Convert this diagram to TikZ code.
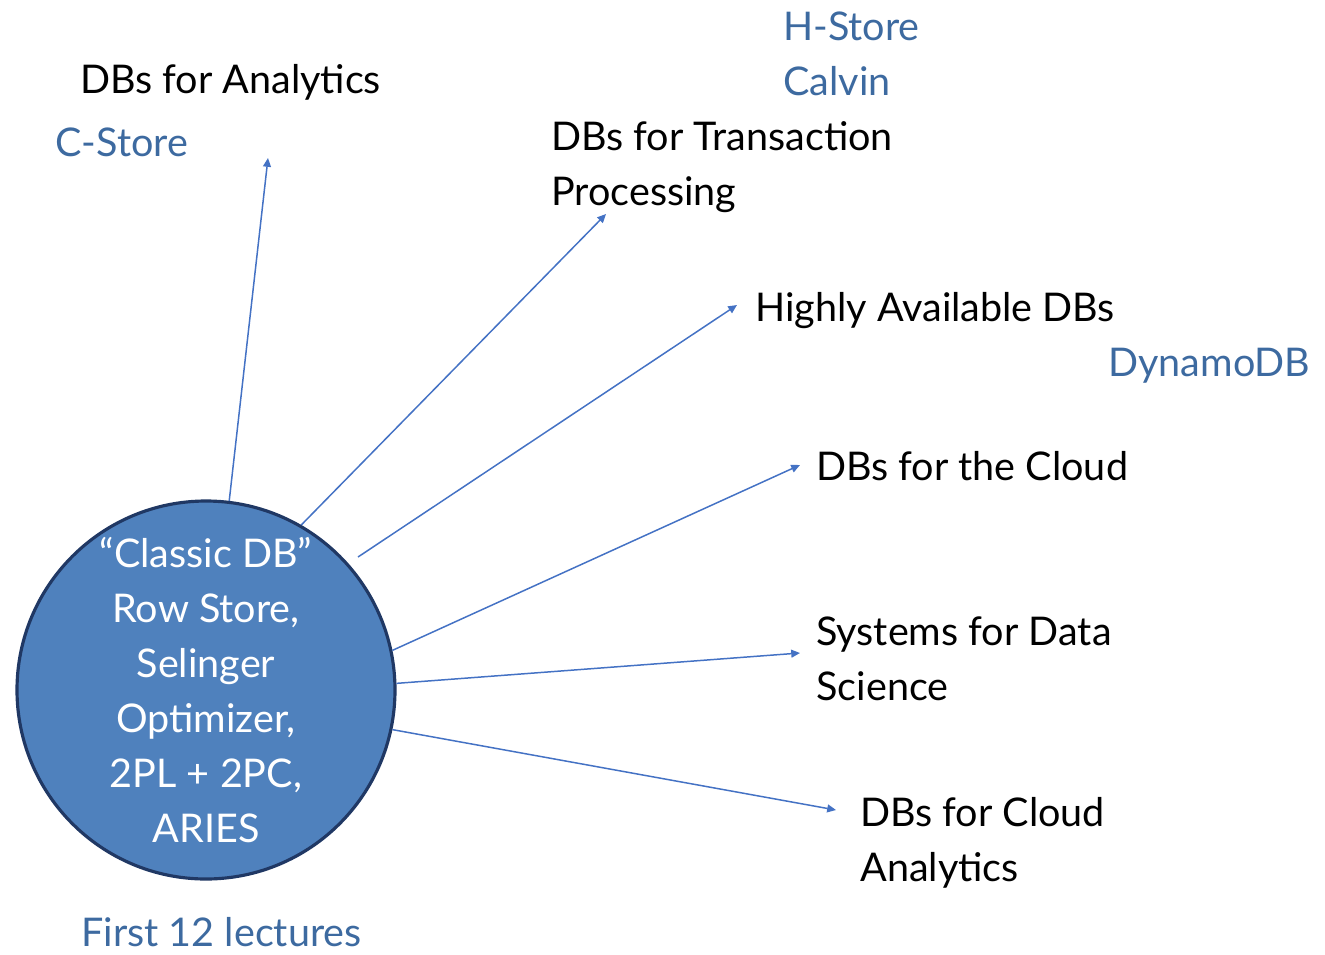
\documentclass[tikz,border=0pt]{standalone}
\usepackage{fontspec}
\setmainfont{Lato}
\usetikzlibrary{arrows.meta}
\definecolor{classicfill}{RGB}{79,129,189}
\definecolor{classicedge}{RGB}{32,56,100}
\definecolor{spokeblue}{RGB}{68,114,196}
\definecolor{sysblue}{RGB}{61,106,160}

\begin{document}
\begin{tikzpicture}[x=0.02cm, y=-0.02cm]
        \tikzstyle{topic}=[anchor=base west, inner sep=0pt, align=left, font=\fontsize{22.5}{31.3}\selectfont, text=black]
        \tikzstyle{system}=[topic, text=sysblue]
        \tikzstyle{spoke}=[draw=spokeblue, line width=0.85pt, -{Triangle[length=5pt, width=4.5pt]}]
        \useasboundingbox (0,0) rectangle (1325,954);

% The classic DB in the middle, with everything that grew out of it.

        \node[circle, minimum size=378*0.02cm, fill=classicfill, draw=classicedge, line width=1.8pt, text=white, align=center, inner sep=0pt, font=\fontsize{22.5}{31.3}\selectfont] (classic) at (206,690) {``Classic DB''\\Row Store,\\Selinger\\Optimizer,\\2PL + 2PC,\\ARIES};

% two-line labels sit on the baseline of their last line
        \node[topic] (analytics) at (80,93) {DBs for Analytics};
        \node[system] (cstore) at (55,156) {C-Store};
        \node[system] (hstore) at (783,40) {H-Store};
        \node[system] (calvin) at (783,95) {Calvin};
        \node[topic] (txn) at (551,205) {DBs for Transaction\\Processing};
        \node[topic] (ha) at (755,321) {Highly Available DBs};
        \node[system] (dynamo) at (1108,376) {DynamoDB};
        \node[topic] (cloud) at (816,480) {DBs for the Cloud};
        \node[topic] (datasci) at (816,700) {Systems for Data\\Science};
        \node[topic] (cloudana) at (860,881) {DBs for Cloud\\Analytics};
        \node[system, text depth=0pt] (first) at (81,946) {First 12 lectures};

        \coordinate (toanalytics) at (268,158);
        \coordinate (totxn) at (606,214);
        \coordinate (fromha) at (358,557);
        \coordinate (toha) at (737,305);
        \coordinate (tocloud) at (800,465);
        \coordinate (todatasci) at (800,653);
        \coordinate (tocloudana) at (836,810);

        \draw[spoke] (classic.83) -- (toanalytics);
        \draw[spoke] (classic.60) -- (totxn);
        \draw[spoke] (fromha) -- (toha);
        \draw[spoke] (classic.12) -- (tocloud);
        \draw[spoke] (classic.2) -- (todatasci);
        \draw[spoke] (classic.-12) -- (tocloudana);

    \end{tikzpicture}
\end{document}
